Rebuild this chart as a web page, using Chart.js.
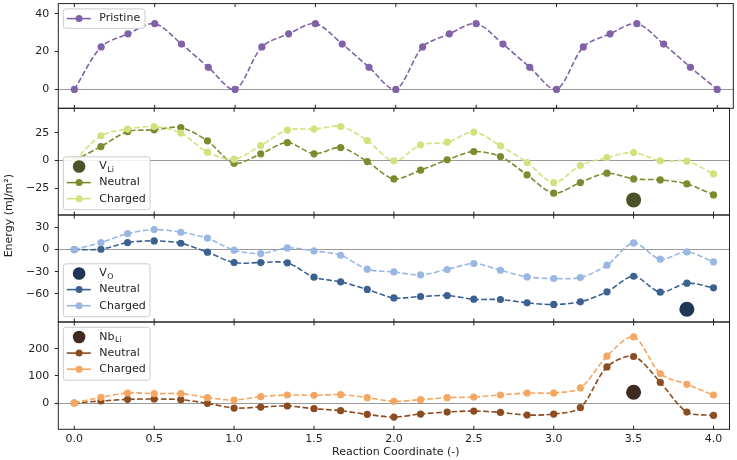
<!DOCTYPE html>
<html><head><meta charset="utf-8">
<script src="https://cdn.jsdelivr.net/npm/chart.js@4/dist/chart.umd.min.js"></script>
<style>
html,body{margin:0;padding:0;background:#fff;}
#wrap{position:relative;width:737px;height:460px;background:#fff;}
canvas{position:absolute;left:0;top:0;}
</style>
</head><body>
<div id="wrap">
<canvas id="c0" width="737" height="460"></canvas>
<canvas id="c1" width="737" height="460"></canvas>
<canvas id="c2" width="737" height="460"></canvas>
<canvas id="c3" width="737" height="460"></canvas>
</div>
<script>
// ---- data ----
const reactionCoord = [0, 0.1667, 0.3333, 0.5, 0.6667, 0.8333, 1, 1.1667, 1.3333, 1.5, 1.6667, 1.8333, 2,
  2.1667, 2.3333, 2.5, 2.6667, 2.8333, 3, 3.1667, 3.3333, 3.5, 3.6667, 3.8333, 4];
const xTickValues = [0, 0.5, 1, 1.5, 2, 2.5, 3, 3.5, 4];

const pristine = [0, 22.5, 29.4, 34.8, 24, 11.7, 0, 22.5, 29.4, 34.8, 24, 11.7, 0,
  22.5, 29.4, 34.8, 24, 11.7, 0, 22.5, 29.4, 34.8, 24, 11.7, 0];

const vLiNeutral = [0, 12.6, 26, 27.6, 29.7, 17.7, -2.4, 6, 16.2, 6, 11.7, -0.9, -16.5,
  -8.7, 0.6, 8.1, 3.6, -12.9, -29.4, -19.8, -11.4, -16.5, -17.4, -21, -30.9];
const vLiCharged = [0, 22.2, 28.3, 30.6, 24.7, 7.5, 1.2, 13.5, 27.4, 28.3, 30.6, 18, -0.3,
  14.1, 16.5, 25.6, 13.2, -1.8, -19.8, -4.5, 2.7, 7.2, -0.3, -0.6, -12];
const vLiSingle = [{x: 3.5, y: -35.4}];

const vONeutral = [0, 0.4, 9.4, 11.7, 8.5, -3.6, -17.6, -17.6, -18, -37.4, -43.7, -54, -65.4,
  -63.5, -62.2, -67.2, -67.6, -72.1, -74.3, -70.7, -57.2, -36.1, -57.7, -45.5, -51.8];
const vOCharged = [0, 9.4, 21.6, 27, 23.4, 15.3, -0.9, -5.4, 2.2, -1.9, -7.7, -26.6, -30.3,
  -34.3, -27, -18.9, -28, -37, -39.2, -37.8, -21.2, 8.9, -13.1, -3.2, -16.8];
const vOSingle = [{x: 3.8333, y: -80.7}];

const nbNeutral = [0, 7.4, 13.6, 14.8, 12.3, -1.2, -18.5, -14.8, -11, -21, -28.4, -41.9, -51.9,
  -40.7, -33.3, -29.6, -34.6, -44.4, -40.7, -17.3, 133.3, 171.6, 76.5, -33.3, -45.7];
const nbCharged = [0, 21, 37, 34.6, 34.6, 19.8, 11, 23.5, 29.6, 28.4, 30.9, 19.8, 6.2,
  12.3, 19.8, 22.2, 29.6, 37, 37, 55.6, 172.8, 244, 108.6, 69.1, 29.6];
const nbSingle = [{x: 3.5, y: 39.5}];

const yTicks1 = [0, 20, 40];
const yTicks2 = [-25, 0, 25];
const yTicks3 = [-60, -30, 0, 30];
const yTicks4 = [0, 100, 200];

const xLabel = 'Reaction Coordinate (-)';
const yLabel = 'Energy (mJ/m\u00B2)';

// ---- style ----
const FONT = 'DejaVu Sans';
const FS = 11;
const TXT = '#222';
Chart.defaults.font.family = FONT;
Chart.defaults.font.size = FS;
Chart.defaults.color = TXT;

const COL = {
  pristine: '#7f62a8',
  vLiN: '#7b8c2e', vLiC: '#d4e07e', vLiB: '#4b5229',
  vON: '#3b6190', vOC: '#9ab7e3', vOB: '#1f3656',
  nbN: '#8b4c20', nbC: '#f5a662', nbB: '#3e2a1e'
};

const panelEdges = [2, 108.3, 215, 322, 429.3];
const plotLeft = 58.3, plotRight = 733.3;

function pts(ys) { return ys.map((y, i) => ({x: reactionCoord[i], y})); }
function lineDs(label, ys, color) {
  return {label, data: pts(ys), borderColor: color, backgroundColor: color,
    borderWidth: 1.6, borderDash: [5.5, 2.4], tension: 0.3,
    pointRadius: 3.6, pointHoverRadius: 3.6, pointBorderWidth: 0,
    pointBackgroundColor: color, showLine: true};
}
function bigDs(label, data, color) {
  return {label, data, borderColor: color, backgroundColor: color, showLine: false,
    pointRadius: 7.5, pointBorderWidth: 0, pointBackgroundColor: color};
}
function fmtNum(v) { return (v < 0 ? '\u2212' : '') + Math.abs(v); }

function decorPlugin(legend, isLast) {
  return {
    id: 'decor',
    afterDatasetsDraw(chart) {
      const ctx = chart.ctx, ca = chart.chartArea, xs = chart.scales.x;
      ctx.save();
      // frame
      ctx.strokeStyle = TXT; ctx.lineWidth = 1;
      ctx.strokeRect(ca.left, ca.top, ca.right - ca.left, ca.bottom - ca.top);
      // inward x ticks top & bottom
      ctx.beginPath();
      xTickValues.forEach(v => {
        const px = xs.getPixelForValue(v);
        ctx.moveTo(px, ca.bottom); ctx.lineTo(px, ca.bottom - 3.5);
        ctx.moveTo(px, ca.top); ctx.lineTo(px, ca.top + 3.5);
      });
      ctx.stroke();
      // legend
      const rowH = 16.1;
      const h = legend.entries.length === 1 ? 19.4 : 10 + rowH * (legend.entries.length - 1) + 10.7;
      const bx = ca.left + 5;
      const by = legend.pos === 'upper' ? ca.top + 5.3 : ca.bottom - 5.3 - h;
      const bw = legend.width;
      ctx.fillStyle = 'rgba(255,255,255,0.85)';
      ctx.strokeStyle = '#cccccc'; ctx.lineWidth = 1;
      ctx.beginPath();
      ctx.roundRect(bx, by, bw, h, 2.5);
      ctx.fill(); ctx.stroke();
      legend.entries.forEach((e, i) => {
        const cy = by + (legend.entries.length === 1 ? h / 2 : 9.7 + i * rowH);
        const mx = bx + 15.8;
        if (e.type === 'big') {
          ctx.fillStyle = e.color;
          ctx.beginPath(); ctx.arc(mx, cy, 6.3, 0, Math.PI * 2); ctx.fill();
        } else {
          ctx.strokeStyle = e.color; ctx.lineWidth = 1.6; ctx.setLineDash([]);
          ctx.beginPath(); ctx.moveTo(bx + 3.5, cy); ctx.lineTo(bx + 27.5, cy); ctx.stroke();
          ctx.fillStyle = e.color;
          ctx.beginPath(); ctx.arc(mx, cy, 3.5, 0, Math.PI * 2); ctx.fill();
        }
        ctx.fillStyle = TXT;
        ctx.textBaseline = 'middle'; ctx.textAlign = 'left';
        ctx.font = FS + 'px "' + FONT + '"';
        const tx = bx + 36;
        if (e.sub) {
          ctx.fillText(e.label, tx, cy);
          const w = ctx.measureText(e.label).width;
          ctx.font = '7.8px "' + FONT + '"';
          ctx.fillText(e.sub, tx + w + 0.5, cy + 3);
        } else {
          ctx.fillText(e.label, tx, cy);
        }
      });
      if (isLast) {
        ctx.fillStyle = TXT;
        ctx.font = FS + 'px "' + FONT + '"';
        ctx.textAlign = 'center'; ctx.textBaseline = 'middle';
        ctx.fillText(xLabel, (plotLeft + plotRight) / 2, 452);
        ctx.save();
        ctx.translate(9, (panelEdges[0] + panelEdges[4]) / 2);
        ctx.rotate(-Math.PI / 2);
        ctx.fillText(yLabel, 0, 0);
        ctx.restore();
      }
      ctx.restore();
    }
  };
}

function makePanel(id, idx, datasets, yMin, yMax, yTicks, legend) {
  const isLast = idx === 3;
  const top = panelEdges[idx], bottom = panelEdges[idx + 1];
  return new Chart(document.getElementById(id), {
    type: 'line',
    data: {datasets},
    options: {
      responsive: false, animation: false, events: [],
      devicePixelRatio: 1,
      layout: {padding: {top: top, bottom: isLast ? 0 : 460 - bottom, left: 0, right: 737 - plotRight}},
      plugins: {legend: {display: false}, tooltip: {enabled: false}},
      scales: {
        x: {
          type: 'linear', min: -0.1, max: 4.1, display: isLast,
          grid: {display: false, drawTicks: false},
          border: {display: false},
          afterBuildTicks: s => { s.ticks = xTickValues.map(v => ({value: v})); },
          ticks: {padding: 3.2, color: TXT, maxRotation: 0, autoSkip: false,
            callback: v => Number(v).toFixed(1)},
          afterFit: s => { s.height = isLast ? 460 - panelEdges[4] : 0; s.paddingLeft = 0; s.paddingRight = 0; }
        },
        y: {
          type: 'linear', min: yMin, max: yMax,
          border: {display: false},
          grid: {
            drawOnChartArea: true, drawTicks: true, tickLength: 3.5,
            tickColor: TXT, tickWidth: 1, lineWidth: 1,
            color: c => (c.tick && c.tick.value === 0) ? '#999999' : 'rgba(0,0,0,0)'
          },
          afterBuildTicks: s => { s.ticks = yTicks.map(v => ({value: v})); },
          ticks: {padding: 5.5, color: TXT, callback: v => fmtNum(v)},
          afterFit: s => { s.width = plotLeft; s.paddingTop = 0; s.paddingBottom = 0; }
        }
      }
    },
    plugins: [decorPlugin(legend, isLast)]
  });
}

makePanel('c0', 0, [lineDs('Pristine', pristine, COL.pristine)], -10, 45.4, yTicks1,
  {pos: 'upper', width: 81.7, entries: [{type: 'line', color: COL.pristine, label: 'Pristine'}]});

makePanel('c1', 1, [
  lineDs('Charged', vLiCharged, COL.vLiC),
  lineDs('Neutral', vLiNeutral, COL.vLiN),
  bigDs('VLi', vLiSingle, COL.vLiB)
], -49, 47, yTicks2,
  {pos: 'lower', width: 86.7, entries: [
    {type: 'big', color: COL.vLiB, label: 'V', sub: 'Li'},
    {type: 'line', color: COL.vLiN, label: 'Neutral'},
    {type: 'line', color: COL.vLiC, label: 'Charged'}]});

makePanel('c2', 2, [
  lineDs('Charged', vOCharged, COL.vOC),
  lineDs('Neutral', vONeutral, COL.vON),
  bigDs('VO', vOSingle, COL.vOB)
], -98, 46.7, yTicks3,
  {pos: 'lower', width: 86.7, entries: [
    {type: 'big', color: COL.vOB, label: 'V', sub: 'O'},
    {type: 'line', color: COL.vON, label: 'Neutral'},
    {type: 'line', color: COL.vOC, label: 'Charged'}]});

makePanel('c3', 3, [
  lineDs('Charged', nbCharged, COL.nbC),
  lineDs('Neutral', nbNeutral, COL.nbN),
  bigDs('NbLi', nbSingle, COL.nbB)
], -97, 299, yTicks4,
  {pos: 'upper', width: 86.7, entries: [
    {type: 'big', color: COL.nbB, label: 'Nb', sub: 'Li'},
    {type: 'line', color: COL.nbN, label: 'Neutral'},
    {type: 'line', color: COL.nbC, label: 'Charged'}]});
</script>
</body></html>
